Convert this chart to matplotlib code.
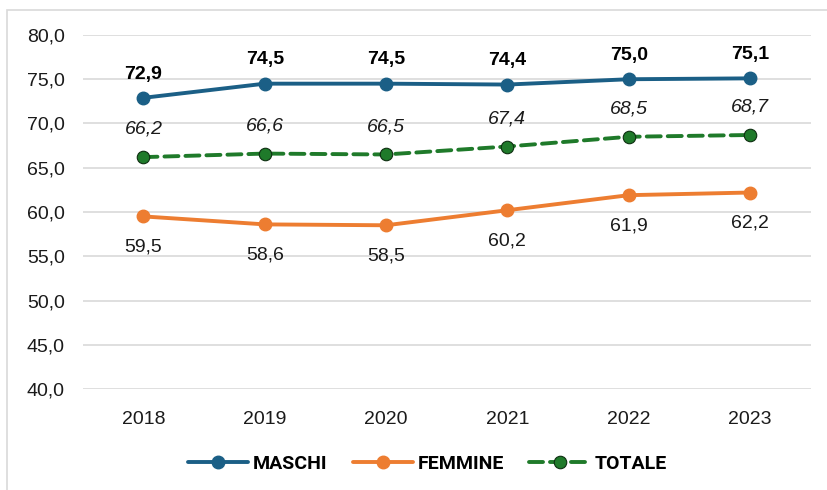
import matplotlib.pyplot as plt
import matplotlib.patches as mpatches

anni = ["2018", "2019", "2020", "2021", "2022", "2023"]
maschi = [72.9, 74.5, 74.5, 74.4, 75.0, 75.1]
femmine = [59.5, 58.6, 58.5, 60.2, 61.9, 62.2]
totale = [66.2, 66.6, 66.5, 67.4, 68.5, 68.7]

plt.rcParams['font.family'] = ['Liberation Sans', 'DejaVu Sans']

fig = plt.figure(figsize=(8.28, 4.90), dpi=100)
ax = fig.add_axes([0.100, 0.2061, 0.879, 0.7225])

# cornice del grafico
fig.patches.append(mpatches.Rectangle((7/828, -0.05), 1.2, 1 - 10/490 + 0.05,
                                      transform=fig.transFigure, fill=False,
                                      edgecolor="#d9d9d9", linewidth=1.2))

x = range(len(anni))
blu, arancio, verde = "#1b5f86", "#ed7d31", "#1f7a2a"

ax.plot(x, maschi, color=blu, linewidth=2.8, marker="o", markersize=9,
        label="MASCHI", solid_capstyle="round")
ax.plot(x, femmine, color=arancio, linewidth=2.8, marker="o", markersize=9,
        label="FEMMINE", solid_capstyle="round")
ax.plot(x, totale, color=verde, linewidth=2.8, linestyle=(0, (3.6, 1.8)),
        marker="o", markersize=9, markeredgecolor="#0d2e10",
        markeredgewidth=0.8, label="TOTALE", dash_capstyle="round")

def fmt(v):
    return f"{v:.1f}".replace(".", ",")

for i in x:
    ax.annotate(fmt(maschi[i]), (i, maschi[i]), xytext=(0, 11),
                textcoords="offset points", ha="center", va="bottom",
                fontsize=14, fontweight="bold", color="black")
    ax.annotate(fmt(totale[i]), (i, totale[i]), xytext=(0, 14),
                textcoords="offset points", ha="center", va="bottom",
                fontsize=14, fontstyle="italic", color="#1a1a1a")
    ax.annotate(fmt(femmine[i]), (i, femmine[i]), xytext=(0, -16),
                textcoords="offset points", ha="center", va="top",
                fontsize=14, color="#1a1a1a")

ax.set_xlim(-0.5, len(anni) - 0.5)
ax.set_ylim(40, 80)
ax.set_xticks(list(x))
ax.set_xticklabels(anni)
ax.set_yticks(range(40, 81, 5))
ax.set_yticklabels([fmt(v) for v in range(40, 81, 5)])
ax.tick_params(axis="both", length=0, labelsize=14, colors="#1a1a1a")
ax.tick_params(axis="x", pad=16)
ax.tick_params(axis="y", pad=13)
ax.grid(axis="y", color="#d9d9d9", linewidth=1.2)
ax.set_axisbelow(True)
for s in ax.spines.values():
    s.set_visible(False)

leg = fig.legend(loc="center", bbox_to_anchor=(0.516, 1 - 464/490), ncol=3,
                 frameon=False, handlelength=3.1, columnspacing=1.3,
                 handletextpad=0.25,
                 prop=dict(family="Roboto", weight="bold", size=14))

fig.savefig("out.png", dpi=100)
